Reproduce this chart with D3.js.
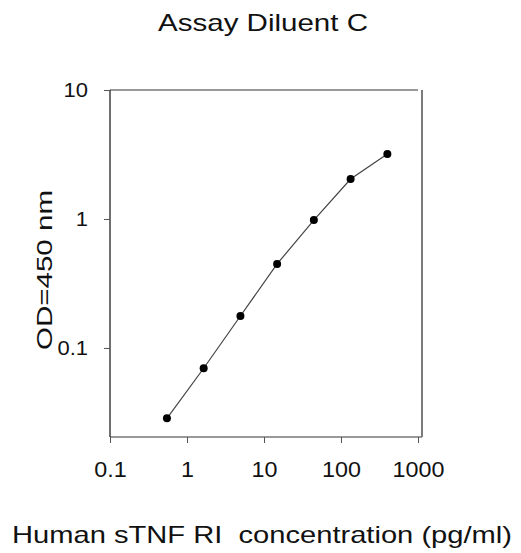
<!DOCTYPE html>
<html>
<head>
<meta charset="utf-8">
<script src="https://cdn.jsdelivr.net/npm/d3@7"></script>
<style>
  body { margin: 0; background: #fff; }
  text { font-family: "Liberation Sans", Arial, sans-serif; fill: #111; }
</style>
</head>
<body>
<div id="chart"></div>
<script>
// DATA
var concentration = [0.549, 1.646, 4.94, 14.8, 44.4, 133.3, 400];
var od = [0.0285, 0.0696, 0.177, 0.448, 0.98, 2.04, 3.19];
var xTicks = [0.1, 1, 10, 100, 1000];
var yTicks = [0.1, 1, 10];
var xTickLabels = ["0.1", "1", "10", "100", "1000"];
var yTickLabels = ["0.1", "1", "10"];

// widen text a bit, the original uses a broader face
function stretch(sel, factor) {
  sel.each(function () {
    var len = this.getComputedTextLength();
    d3.select(this)
      .attr("textLength", len * factor)
      .attr("lengthAdjust", "spacingAndGlyphs");
  });
}

// CHART SETUP
var width = 521, height = 553;
var margin = { top: 90, right: 99, bottom: 116, left: 110 };
var innerW = width - margin.left - margin.right,
  innerH = height - margin.top - margin.bottom;

var svg = d3
  .select("#chart")
  .append("svg")
  .attr("width", width)
  .attr("height", height);

var g = svg
  .append("g")
  .attr("transform", "translate(" + margin.left + "," + margin.top + ")");

// SCALES
var xScale = d3.scaleLog().domain([0.1, 1000]).range([0, 308]);
var yScale = d3.scaleLog().domain([0.0204, 10]).range([innerH, 0]);

// FRAME (top and right)
g.append("line")
  .attr("x1", 0).attr("x2", xScale(1000))
  .attr("y1", 0).attr("y2", 0)
  .attr("stroke", "#777").attr("stroke-width", 1.6);
g.append("line")
  .attr("x1", 312).attr("x2", 312)
  .attr("y1", 0).attr("y2", innerH)
  .attr("stroke", "#222").attr("stroke-width", 1.2);

// X AXIS
var xAxis = d3
  .axisBottom(xScale)
  .tickValues(xTicks)
  .tickSize(6)
  .tickPadding(18)
  .tickFormat((d, i) => xTickLabels[i]);
var gx = g.append("g")
  .attr("transform", "translate(0," + innerH + ")")
  .call(xAxis);
gx.select(".domain").attr("d", "M0,0H312").attr("stroke", "#777").attr("stroke-width", 1.6);
gx.selectAll(".tick line").attr("stroke", "#555");
gx.selectAll("text").style("font-size", "22px").attr("fill", "#111");
stretch(gx.selectAll("text"), 1.06);

// Y AXIS
var yAxis = d3
  .axisLeft(yScale)
  .tickValues(yTicks)
  .tickSize(6)
  .tickPadding(16)
  .tickFormat((d, i) => yTickLabels[i]);
var gy = g.append("g").call(yAxis);
gy.select(".domain").attr("d", "M0,0V" + innerH).attr("stroke", "#111").attr("stroke-width", 1.2);
gy.selectAll(".tick line").attr("stroke", "#555");
gy.selectAll("text").style("font-size", "20px").attr("fill", "#111");
stretch(gy.selectAll("text"), 1.1);

// LINE
var points = concentration.map((c, i) => ({ x: c, y: od[i] }));
var line = d3.line().x((d) => xScale(d.x)).y((d) => yScale(d.y));
g.append("path")
  .datum(points)
  .attr("d", line)
  .attr("fill", "none")
  .attr("stroke", "#444")
  .attr("stroke-width", 1.2);

// POINTS
g.selectAll(".dot")
  .data(points)
  .enter()
  .append("circle")
  .attr("class", "dot")
  .attr("cx", (d) => xScale(d.x))
  .attr("cy", (d) => yScale(d.y))
  .attr("r", 4)
  .attr("fill", "#000");

// TITLES
svg.append("text")
  .attr("x", 263).attr("y", 31)
  .attr("text-anchor", "middle")
  .style("font-size", "24px")
  .attr("textLength", 210)
  .attr("lengthAdjust", "spacingAndGlyphs")
  .text("Assay Diluent C");

svg.append("text")
  .attr("transform", "translate(52,270) rotate(-90)")
  .attr("text-anchor", "middle")
  .style("font-size", "22px")
  .attr("textLength", 160)
  .attr("lengthAdjust", "spacingAndGlyphs")
  .text("OD=450 nm");

svg.append("text")
  .attr("x", 262).attr("y", 543)
  .attr("text-anchor", "middle")
  .style("font-size", "24px")
  .attr("xml:space", "preserve")
  .attr("textLength", 500)
  .attr("lengthAdjust", "spacingAndGlyphs")
  .text("Human sTNF RI  concentration (pg/ml)");
</script>
</body>
</html>
